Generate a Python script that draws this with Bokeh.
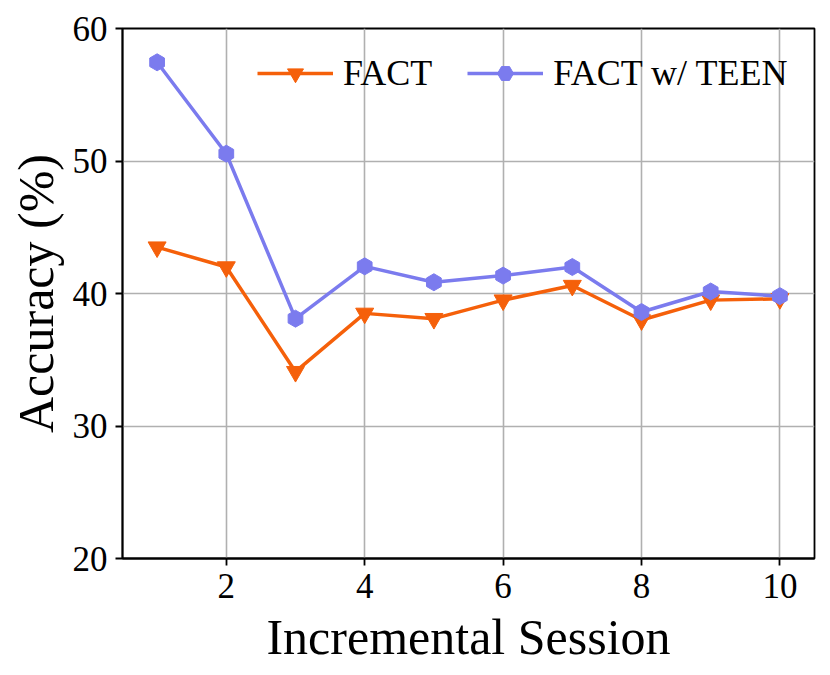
from bokeh.plotting import figure
from bokeh.models import Range1d, FixedTicker, Legend, LegendItem, ColumnDataSource
from bokeh.embed import file_html
from bokeh.resources import INLINE
import math

sessions = [1, 2, 3, 4, 5, 6, 7, 8, 9, 10]
fact = [43.5, 42.0, 34.1, 38.5, 38.1, 39.5, 40.6, 38.0, 39.5, 39.6]
fact_teen = [57.45, 50.55, 38.1, 42.05, 40.85, 41.35, 42.0, 38.6, 40.15, 39.8]
x_ticks = [2, 4, 6, 8, 10]
y_ticks = [20, 30, 40, 50, 60]
series_names = ["FACT", "FACT w/ TEEN"]
colors = ["#F5600A", "#7B7BEE"]

FONT = "Liberation Serif"

p = figure(width=822, height=667, output_backend="svg", toolbar_location=None,
           x_range=Range1d(0.5, 10.5), y_range=Range1d(20, 60))
p.min_border_left = 122
p.min_border_top = 28
p.min_border_right = 8
p.min_border_bottom = 107

p.outline_line_color = "black"
p.outline_line_width = 1.8
p.outline_line_alpha = 1

for ax, ticks in ((p.xaxis[0], x_ticks), (p.yaxis[0], y_ticks)):
    ax.ticker = FixedTicker(ticks=ticks)
    ax.minor_tick_line_color = None
    ax.major_tick_in = 0
    ax.major_tick_out = 7
    ax.major_tick_line_width = 1.8
    ax.major_tick_line_color = "black"
    ax.axis_line_color = "black"
    ax.axis_line_width = 1.8
    ax.major_label_text_font = FONT
    ax.major_label_text_font_size = "35px"
    ax.major_label_text_color = "black"
    ax.axis_label_text_font = FONT
    ax.axis_label_text_font_size = "50px"
    ax.axis_label_text_font_style = "normal"
    ax.axis_label_text_color = "black"

p.xaxis.axis_label = "Incremental Session"
p.yaxis.axis_label = "Accuracy (%)"
p.xaxis.major_label_standoff = 8
p.yaxis.major_label_standoff = 8
p.xaxis.axis_label_standoff = 8
p.yaxis.axis_label_standoff = 6

p.grid.grid_line_color = "#b0b0b0"
p.grid.grid_line_width = 1.6
p.xgrid.ticker = FixedTicker(ticks=x_ticks)
p.ygrid.ticker = FixedTicker(ticks=y_ticks)

src = ColumnDataSource(dict(x=sessions, fact=fact, teen=fact_teen))

l1 = p.line("x", "fact", source=src, line_color=colors[0], line_width=3.5)
m1 = p.scatter("x", "fact", source=src, marker="inverted_triangle", size=18,
               fill_color=colors[0], line_color=colors[0])
l2 = p.line("x", "teen", source=src, line_color=colors[1], line_width=3.5)
m2 = p.scatter("x", "teen", source=src, marker="hex", size=17, angle=math.pi / 6,
               fill_color=colors[1], line_color=colors[1])

legend = Legend(items=[LegendItem(label=series_names[0], renderers=[l1, m1]),
                       LegendItem(label=series_names[1], renderers=[l2, m2])],
                orientation="horizontal", location=(135, 464))
legend.background_fill_alpha = 0
legend.border_line_alpha = 0
legend.label_text_font = FONT
legend.label_text_font_size = "36px"
legend.label_text_color = "black"
legend.glyph_width = 76
legend.glyph_height = 40
legend.label_height = 40
legend.label_standoff = 10
legend.spacing = 35
legend.padding = 0
legend.margin = 0
p.add_layout(legend)

open("out.html", "w").write(file_html(p, INLINE))
